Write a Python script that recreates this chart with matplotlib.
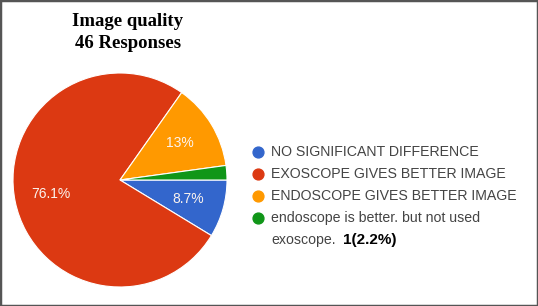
import matplotlib
matplotlib.use("Agg")
import matplotlib.pyplot as plt
import numpy as np
from matplotlib.lines import Line2D
from matplotlib.patches import Rectangle

# survey answers (46 responses)
labels = [
    "NO SIGNIFICANT DIFFERENCE",
    "EXOSCOPE GIVES BETTER IMAGE",
    "ENDOSCOPE GIVES BETTER IMAGE",
    "endoscope is better. but not used\nexoscope.",
]
counts = [4, 35, 6, 1]
pct_labels = ["8.7%", "76.1%", "13%", ""]
colors = ["#3366cc", "#dc3912", "#ff9900", "#109618"]

W, H = 538, 306
fig = plt.figure(figsize=(W / 100, H / 100), dpi=100)
fig.patch.set_facecolor("white")

# pie: centre (120, 180) px, radius 107 px
cx, cy, r = 120, 180, 107
ax = fig.add_axes([(cx - r) / W, (H - cy - r) / H, 2 * r / W, 2 * r / H])
wedges, _ = ax.pie(counts, colors=colors, startangle=0, counterclock=False,
                   radius=1.0, wedgeprops=dict(edgecolor="white", linewidth=0.8))
ax.set_xlim(-1, 1)
ax.set_ylim(-1, 1)
ax.set_aspect("equal")
ax.axis("off")

# percentage labels along each wedge's mid angle
for w, txt in zip(wedges, pct_labels):
    if not txt:
        continue
    ang = np.deg2rad((w.theta1 + w.theta2) / 2)
    d = 0.66
    ax.text(d * np.cos(ang), d * np.sin(ang), txt, color="#fbf3ee",
            ha="center", va="center", fontsize=10, family="Liberation Sans")

# title
fig.text(128 / W, 1 - 22 / H, "Image quality", ha="center", va="center",
         fontsize=13.5, fontweight="bold", family="Liberation Serif")
fig.text(128 / W, 1 - 44 / H, "46 Responses", ha="center", va="center",
         fontsize=13.5, fontweight="bold", family="Liberation Serif")

# legend, drawn by hand so the two-line entry matches
row_y = [152, 174, 196, 218]
for i, (lab, c) in enumerate(zip(labels, colors)):
    fig.add_artist(Line2D([258 / W], [1 - row_y[i] / H], transform=fig.transFigure,
                          linestyle="none", marker="o", markersize=7.8,
                          markerfacecolor=c, markeredgecolor=c))
    for j, part in enumerate(lab.split("\n")):
        fig.text(271 / W, 1 - (row_y[i] + 22 * j) / H, part, ha="left",
                 va="center", fontsize=10.2, family="Liberation Sans",
                 color="#444444")

fig.text(343 / W, 1 - 240 / H, "1(2.2%)", ha="left", va="center",
         fontsize=11, fontweight="bold", family="Liberation Sans", color="black")

# frame round the picture
fig.patches.append(Rectangle((0, 0), 1, 1, transform=fig.transFigure,
                             fill=False, edgecolor="#555555", linewidth=2.5))

fig.savefig("out.png", dpi=100)
